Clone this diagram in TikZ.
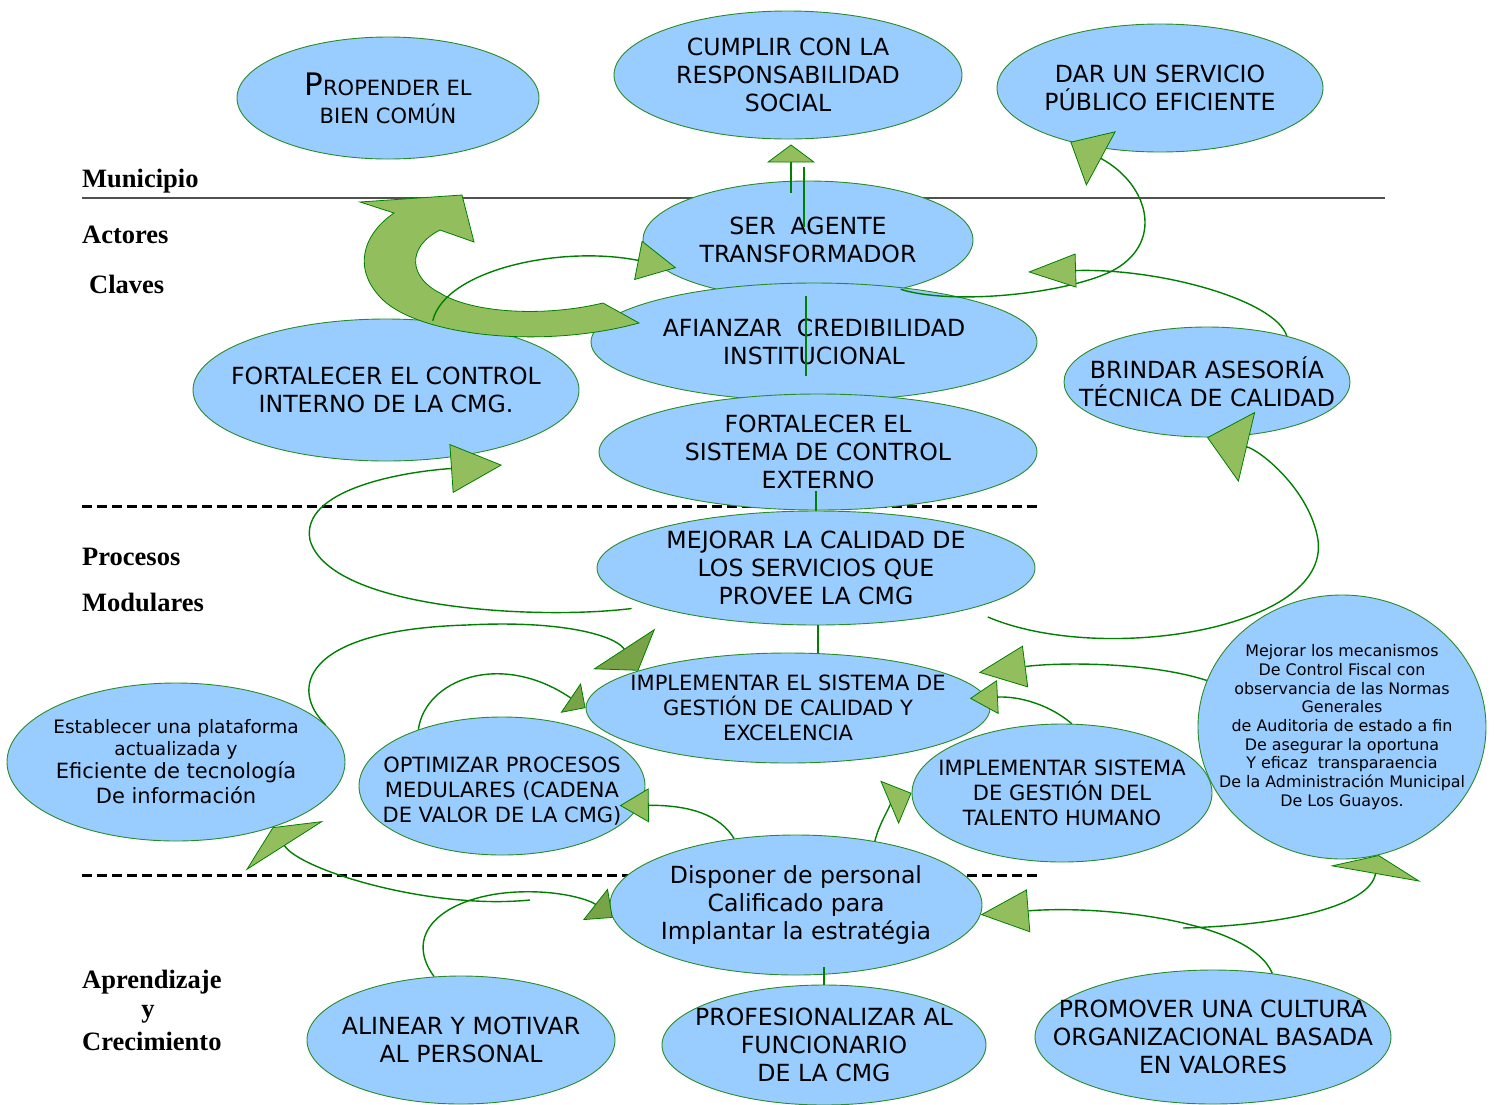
\documentclass[tikz,border=0pt]{standalone}
\usepackage{fontspec}
\setmainfont{DejaVu Sans}
\newfontfamily\serifbold{Liberation Serif}
\usepackage{tikz, xcolor}
\usetikzlibrary{shapes,arrows.meta}

\definecolor{ellblue}{RGB}{153,204,255}
\definecolor{ellgreen}{RGB}{40,140,40}
\definecolor{linegreen}{RGB}{0,128,0}
\definecolor{tipgreen}{RGB}{146,190,94}
\definecolor{tipdark}{RGB}{120,163,70}
\definecolor{rulegray}{RGB}{80,80,80}

\begin{document}
\begin{tikzpicture}[x=1pt, y=-1pt]
\tikzstyle{vertexe}=[ellipse, draw=ellgreen, fill=ellblue, line width=0.9pt, inner sep=0pt]
\tikzstyle{txtbig}=[align=center, inner sep=0pt, font=\fontsize{23.6}{28}\selectfont]
\tikzstyle{txtcaps}=[align=center, inner sep=0pt, font=\fontsize{21}{28}\selectfont]
\tikzstyle{txtmid}=[align=center, inner sep=0pt, font=\fontsize{21}{25}\selectfont]
\tikzstyle{txtsmall}=[align=center, inner sep=0pt, font=\fontsize{15.9}{18.7}\selectfont]
\tikzstyle{rowlabel}=[anchor=base west, inner sep=0pt, font=\serifbold\bfseries\fontsize{26.5}{30}\selectfont]
\tikzstyle{drawstyle}=[line width=1.4pt, draw=linegreen]
\tikzset{headtri/.style 2 args={-{Triangle[length=#1, width=#2, fill=tipgreen, line width=0.8pt]}},
         headdark/.style 2 args={-{Triangle[length=#1, width=#2, fill=tipdark, line width=0.8pt]}}}

\useasboundingbox (0,0) rectangle (1494,1104);

% level rules
\draw[rulegray, line width=1.3pt] (82,198) -- (1385,198);
\draw[black, line width=3pt, dash pattern=on 10pt off 5pt] (82,506) -- (1040,506);
\draw[black, line width=3pt, dash pattern=on 10pt off 5pt] (82,875) -- (1040,875);

\node[rowlabel] (L1) at (82,187) {Municipio};
\node[rowlabel] (L2) at (82,243) {Actores};
\node[rowlabel] (L3) at (89,293) {Claves};
\node[rowlabel] (L4) at (82,565) {Procesos};
\node[rowlabel] (L5) at (82,611) {Modulares};
\node[rowlabel] (L6) at (82,988) {Aprendizaje};
\node[rowlabel, anchor=base] (L7) at (148,1017) {y};
\node[rowlabel] (L8) at (82,1050) {Crecimiento};

% Municipio
\node[vertexe, minimum width=302pt, minimum height=122pt] (M1) at (388,98) {};
\node[txtcaps] (M1t) at (M1) {{\fontsize{31}{28}\selectfont P}ROPENDER EL\\BIEN COMÚN};
\node[vertexe, minimum width=348pt, minimum height=128pt] (M2) at (788,75) {};
\node[txtbig] (M2t) at (M2) {CUMPLIR CON LA\\RESPONSABILIDAD\\SOCIAL};
\node[vertexe, minimum width=326pt, minimum height=128pt] (M3) at (1160,88) {};
\node[txtbig] (M3t) at (M3) {DAR UN SERVICIO\\PÚBLICO EFICIENTE};

% Actores claves
\node[vertexe, minimum width=330pt, minimum height=118pt] (A1) at (808,240) {};
\node[txtbig] (A1t) at (A1) {SER\ \ AGENTE\\TRANSFORMADOR};
\node[vertexe, minimum width=446pt, minimum height=118pt] (A2) at (814,342) {};
\node[txtbig] (A2t) at (A2) {AFIANZAR\ \ CREDIBILIDAD\\INSTITUCIONAL};
\node[vertexe, minimum width=386pt, minimum height=142pt] (A3) at (386,390) {};
\node[txtbig] (A3t) at (A3) {FORTALECER EL CONTROL\\INTERNO DE LA CMG.};
\node[vertexe, minimum width=438pt, minimum height=116pt] (A4) at (818,452) {};
\node[txtbig] (A4t) at (A4) {FORTALECER EL\\SISTEMA DE CONTROL\\EXTERNO};
\node[vertexe, minimum width=286pt, minimum height=110pt] (A5) at (1207,382) {};
\node[txtbig] (A5t) at (A5) {BRINDAR ASESORÍA\\TÉCNICA DE CALIDAD};

% Procesos modulares
\node[vertexe, minimum width=438pt, minimum height=114pt] (P1) at (816,568) {};
\node[txtbig] (P1t) at (P1) {MEJORAR LA CALIDAD DE\\LOS SERVICIOS QUE\\PROVEE LA CMG};
\node[vertexe, minimum width=404pt, minimum height=110pt] (P2) at (788,708) {};
\node[txtmid] (P2t) at (P2) {IMPLEMENTAR EL SISTEMA DE\\GESTIÓN DE CALIDAD Y\\EXCELENCIA};
\node[vertexe, minimum width=338pt, minimum height=158pt] (P3) at (176,762) {};
\node[txtmid] (P3t) at (P3) {\fontsize{18.5}{22}\selectfont Establecer una plataforma\\[-3pt]\fontsize{18.5}{22}\selectfont actualizada y\\[-2pt]Eficiente de tecnología\\De información};
\node[vertexe, minimum width=286pt, minimum height=138pt] (P4) at (502,786) {};
\node[txtmid, yshift=-5pt] (P4t) at (P4) {OPTIMIZAR PROCESOS\\MEDULARES (CADENA\\DE VALOR DE LA CMG)};
\node[vertexe, minimum width=288pt, minimum height=264pt] (P6) at (1342,727) {};
\node[txtsmall] (P6t) at (P6) {Mejorar los mecanismos\\De Control Fiscal con\\observancia de las Normas\\Generales\\de Auditoria de estado a fin\\De asegurar la oportuna\\Y eficaz\ \ transparaencia\\De la Administración Municipal\\De Los Guayos.};
\node[vertexe, minimum width=300pt, minimum height=138pt] (P5) at (1062,793) {};
\node[txtmid] (P5t) at (P5) {IMPLEMENTAR SISTEMA\\DE GESTIÓN DEL\\TALENTO HUMANO};

% Aprendizaje y crecimiento
\node[vertexe, minimum width=372pt, minimum height=140pt] (C1) at (796,905) {};
\node[txtbig] (C1t) at (C1) {Disponer de personal\\Calificado para\\Implantar la estratégia};
\node[vertexe, minimum width=308pt, minimum height=128pt] (C2) at (461,1040) {};
\node[txtbig] (C2t) at (C2) {ALINEAR Y MOTIVAR\\AL PERSONAL};
\node[vertexe, minimum width=324pt, minimum height=120pt] (C3) at (824,1045) {};
\node[txtbig] (C3t) at (C3) {PROFESIONALIZAR AL\\FUNCIONARIO\\DE LA CMG};
\node[vertexe, minimum width=356pt, minimum height=134pt] (C4) at (1213,1037) {};
\node[txtbig] (C4t) at (C4) {PROMOVER UNA CULTURA\\ORGANIZACIONAL BASADA\\EN VALORES};

% big curved arrow
\filldraw[fill=tipgreen, draw=linegreen, line width=0.8pt]
  (639,323) -- (603,303) .. controls (540,318) and (470,312) .. (440,293)
  .. controls (410,278) and (405,248) .. (440,230) -- (474,242) -- (462,195)
  -- (360,202) -- (394,213) .. controls (362,235) and (352,270) .. (383,300)
  .. controls (420,335) and (540,350) .. cycle;

\coordinate (Dtip) at (1028,272);
\coordinate (Ftip) at (502,465);
\coordinate (Mstart) at (530,900);
\coordinate (Pstart) at (1183,928);

\draw[drawstyle, headtri={39pt}{40pt}, shorten >=-20pt] (A3.56) .. controls (445,270) and (560,245) .. (A1.189);
\draw[drawstyle, headtri={35pt}{62pt}] (A1.332) .. controls (950,305) and (1060,295) .. (1110,272) .. controls (1165,245) and (1150,185) .. (M3.211);
\draw[drawstyle, headtri={48pt}{34pt}] (A5.30) .. controls (1275,300) and (1160,268) .. (Dtip);
\draw[drawstyle, headtri={18pt}{48pt}] ([xshift=-17pt, yshift=-12pt]A1.north) -- ([xshift=3pt, yshift=-5pt]M2.south);
\draw[drawstyle] ([xshift=-4pt, yshift=14pt]A1.north) -- ([xshift=-4pt, yshift=-46pt]A1.north);
\draw[drawstyle] ([xshift=-8pt, yshift=-13pt]A2.north) -- ([xshift=-8pt, yshift=-93pt]A2.north);
\draw[drawstyle] (P1.north) -- ([yshift=20pt]P1.north);
\draw[drawstyle] ([xshift=2pt]P1.south) -- ([xshift=2pt]P1.south |- P2.north);
\draw[drawstyle] (C3.north) -- ([yshift=18pt]C3.north);
\draw[drawstyle, headtri={51pt}{49pt}, shorten <=20pt] (P1.193) .. controls (540,620) and (330,610) .. (310,540) .. controls (300,490) and (400,472) .. (Ftip);
\draw[drawstyle, headtri={41pt}{72pt}, shorten <=20pt] (P1.345) .. controls (1100,665) and (1330,630) .. (1318,540) .. controls (1310,490) and (1260,450) .. (A5.south);
\draw[drawstyle, headdark={26pt}{74pt}] (P3.14) .. controls (290,690) and (300,630) .. (467,625) .. controls (560,620) and (615,635) .. (P2.166);
\draw[drawstyle, headdark={18pt}{36pt}] (P4.146) .. controls (425,680) and (500,650) .. (P2.west);
\draw[drawstyle, headtri={29pt}{34pt}, shorten >=-20pt] (C1.133) .. controls (720,815) and (690,805) .. (P4.352);
\draw[drawstyle, headtri={28pt}{34pt}, shorten >=-17pt] (P5.82) .. controls (1050,705) and (1020,696) .. (P2.3);
\draw[drawstyle, headtri={47pt}{42pt}, shorten >=26pt] (P6.161) .. controls (1150,662) and (1060,662) .. (P2.11);
\draw[drawstyle, headtri={24pt}{47pt}] (C1.39) .. controls (880,820) and (895,800) .. (P5.west);
\draw[drawstyle, headtri={22pt}{92pt}] (Mstart) .. controls (430,910) and (300,870) .. (P3.326);
\draw[drawstyle, headdark={22pt}{40pt}] (C2.113) .. controls (400,930) and (450,895) .. (517,892) .. controls (560,890) and (590,900) .. (C1.184);
\draw[drawstyle, headtri={48pt}{43pt}] (C4.47) .. controls (1250,920) and (1100,905) .. (C1.357);
\draw[drawstyle, headtri={19pt}{92pt}] (Pstart) .. controls (1290,925) and (1370,905) .. (P6.286);
\end{tikzpicture}
\end{document}
